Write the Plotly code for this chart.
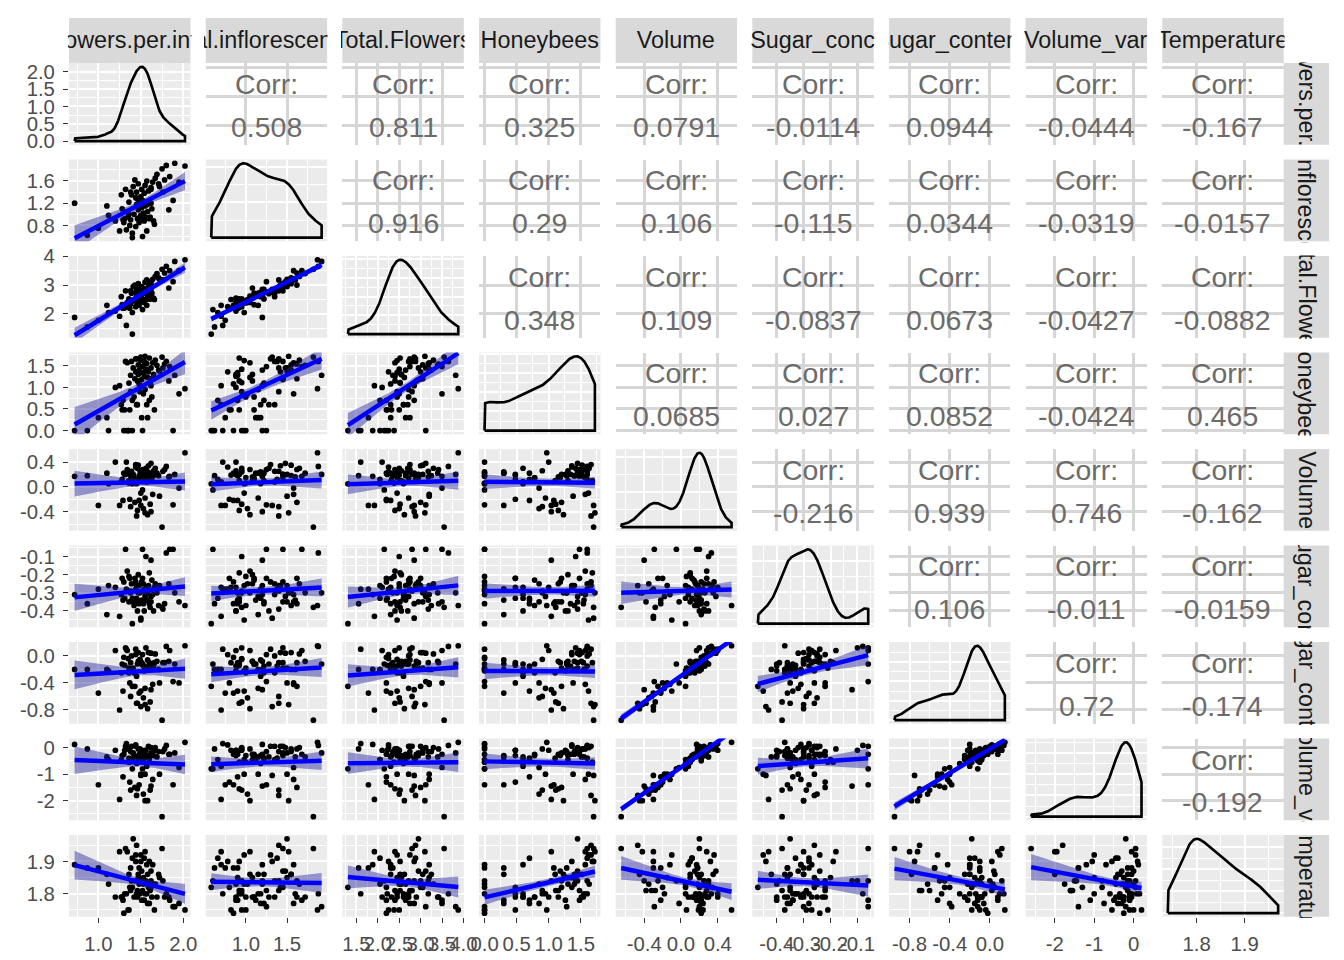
import numpy as np
import plotly.graph_objects as go

# ---------------- data ----------------
var_labels = ["Flowers.per.inflo", "Total.inflorescences", "Total.Flowers",
              "Honeybees", "Volume", "Sugar_conc", "Sugar_content", "Volume_var", "Temperature"]

flowers_per_inflorescence = [
    0.72, 2.02, 0.87, 1.00, 1.10, 1.12, 1.20, 1.25, 1.28, 1.30,
    1.31, 1.32, 1.33, 1.34, 1.35, 1.36, 1.37, 1.38, 1.39, 1.40,
    1.41, 1.42, 1.43, 1.44, 1.45, 1.45, 1.46, 1.46, 1.47, 1.47,
    1.48, 1.48, 1.49, 1.50, 1.50, 1.51, 1.51, 1.52, 1.52, 1.53,
    1.53, 1.54, 1.54, 1.55, 1.55, 1.56, 1.57, 1.57, 1.58, 1.59,
    1.60, 1.60, 1.61, 1.62, 1.63, 1.64, 1.65, 1.66, 1.67, 1.62,
    1.62, 1.36, 1.69, 1.44, 1.29, 1.71, 1.58, 1.75, 1.38, 1.78,
    1.83, 1.80, 1.27, 1.72, 1.88, 1.84, 1.90, 1.95, 1.76, 1.40]
total_inflorescences = [
    1.20, 1.87, 0.62, 0.75, 1.15, 0.98, 0.88, 0.70, 1.10, 0.85,
    0.92, 1.45, 0.72, 1.05, 0.95, 1.22, 0.80, 0.90, 1.35, 0.66,
    1.50, 1.00, 1.62, 0.78, 1.18, 1.40, 0.92, 1.28, 1.08, 1.55,
    0.85, 1.20, 0.95, 0.98, 1.32, 1.12, 1.45, 0.60, 1.25, 0.90,
    1.02, 1.38, 0.88, 1.52, 1.15, 0.95, 0.70, 1.60, 1.05, 1.42,
    1.22, 0.92, 0.95, 1.48, 1.10, 1.58, 0.88, 0.82, 1.65, 1.20,
    1.45, 1.00, 1.72, 1.30, 0.90, 1.55, 1.18, 1.82, 1.40, 1.62,
    1.08, 1.88, 1.35, 1.50, 1.25, 1.68, 1.92, 1.58, 1.40, 0.58]
total_flowers = [
    1.88, 3.88, 1.55, 1.78, 2.30, 2.05, 2.10, 1.92, 2.32, 2.20,
    2.22, 2.80, 1.60, 2.40, 2.25, 2.52, 2.20, 2.35, 2.72, 2.05,
    2.95, 2.45, 3.00, 2.25, 2.60, 2.88, 2.40, 2.70, 2.55, 3.05,
    2.30, 2.65, 2.45, 2.45, 2.85, 2.65, 2.95, 2.15, 2.75, 2.45,
    2.50, 2.88, 2.40, 3.10, 2.72, 2.50, 2.30, 3.18, 2.62, 3.00,
    2.85, 2.52, 2.52, 3.12, 2.72, 3.20, 2.55, 2.50, 3.30, 2.85,
    3.05, 2.38, 3.40, 2.75, 2.20, 3.25, 2.75, 3.55, 2.80, 3.42,
    2.90, 3.65, 2.60, 3.20, 3.12, 3.50, 3.82, 3.50, 3.18, 1.30]
honeybees = [
    0.00, 0.97, 0.00, 0.30, 0.30, 0.00, 1.00, 1.04, 0.48, 0.00,
    0.48, 1.60, 0.00, 1.57, 0.00, 1.10, 0.48, 1.28, 1.60, 0.70,
    1.45, 0.78, 1.20, 1.36, 0.60, 1.66, 1.15, 0.60, 1.30, 1.52,
    1.08, 1.40, 0.90, 1.62, 1.70, 0.30, 1.18, 0.00, 1.48, 1.34,
    0.85, 1.60, 1.26, 1.72, 0.95, 1.42, 0.60, 1.55, 1.23, 1.36,
    0.70, 1.68, 1.11, 1.45, 0.78, 1.57, 1.30, 0.48, 1.63, 1.04,
    1.20, 0.00, 1.51, 1.66, 0.70, 1.40, 0.30, 1.70, 0.90, 1.54,
    1.15, 1.60, 0.60, 1.38, 0.00, 1.48, 1.28, 0.85, 1.45, 0.00]
volume = [
    0.17, 0.55, 0.18, -0.30, 0.22, 0.05, 0.40, -0.30, 0.12, 0.22,
    0.20, 0.20, 0.40, 0.28, 0.24, 0.10, -0.20, 0.18, 0.25, 0.12,
    0.20, 0.15, -0.25, 0.32, 0.05, -0.47, -0.38, 0.30, 0.10, 0.35,
    -0.22, 0.18, 0.26, -0.10, -0.30, 0.22, 0.15, -0.05, 0.28, 0.20,
    -0.35, 0.12, 0.20, -0.42, -0.18, 0.30, 0.08, 0.16, -0.45, 0.34,
    0.22, 0.10, -0.28, 0.38, 0.14, -0.12, 0.26, 0.19, 0.30, -0.40,
    0.20, 0.06, 0.22, 0.36, -0.22, 0.18, 0.24, -0.65, -0.32, 0.28,
    0.16, 0.33, 0.08, -0.15, -0.29, 0.17, 0.20, -0.02, 0.25, 0.05]
sugar_conc = [
    -0.31, -0.37, -0.36, -0.28, -0.42, -0.26, -0.27, -0.43, -0.22, -0.24,
    -0.33, -0.06, -0.28, -0.18, -0.29, -0.35, -0.22, -0.30, -0.25, -0.33,
    -0.35, -0.37, -0.22, -0.28, -0.33, -0.26, -0.35, -0.40, -0.20, -0.30,
    -0.36, -0.26, -0.30, -0.45, -0.44, -0.34, -0.24, -0.06, -0.22, -0.36,
    -0.25, -0.28, -0.40, -0.30, -0.32, -0.10, -0.27, -0.34, -0.30, -0.26,
    -0.36, -0.19, -0.38, -0.32, -0.23, -0.31, -0.40, -0.27, -0.25, -0.12,
    -0.35, -0.21, -0.30, -0.24, -0.34, -0.37, -0.28, -0.38, -0.29, -0.36,
    -0.25, -0.08, -0.31, -0.26, -0.06, -0.06, -0.30, -0.35, -0.39, -0.47]
sugar_content = [
    -0.20, 0.15, -0.20, -0.55, -0.20, -0.22, 0.08, -0.80, -0.12, -0.02,
    -0.14, 0.12, 0.10, 0.08, -0.04, -0.25, -0.40, -0.10, 0.00, -0.20,
    -0.18, -0.25, -0.45, 0.02, -0.30, -0.70, -0.70, -0.12, -0.08, 0.05,
    -0.55, -0.08, -0.05, -0.52, -0.75, -0.12, -0.10, -0.12, 0.02, -0.15,
    -0.62, -0.15, -0.22, -0.72, -0.48, 0.12, -0.20, -0.20, -0.78, 0.05,
    -0.15, -0.10, -0.68, 0.04, -0.12, -0.42, -0.15, -0.10, 0.03, -0.50,
    -0.18, -0.18, -0.08, 0.10, -0.52, -0.20, -0.06, -0.95, -0.60, -0.10,
    -0.08, 0.14, -0.25, -0.40, -0.38, 0.08, -0.12, -0.40, -0.10, -0.45]
volume_var = [
    0.12, 0.20, -0.05, -1.40, -0.35, -0.45, -0.10, -1.95, -0.30, -0.25,
    -0.10, 0.05, 0.15, -0.05, 0.00, -0.40, -1.30, -0.15, 0.05, -0.45,
    -0.20, -0.30, -1.50, 0.10, -0.60, -1.80, -1.55, -0.35, -0.45, -0.05,
    -1.40, -0.25, -0.05, -1.00, -1.05, -0.50, -0.30, -0.80, -0.15, -0.25,
    -1.75, -0.40, -0.10, -2.00, -1.00, -0.10, -0.70, -0.35, -2.00, 0.05,
    -0.40, -0.55, -1.60, 0.00, -0.25, -1.20, -0.30, -0.10, 0.00, -1.45,
    -0.20, -0.55, -0.35, 0.05, -1.10, -0.15, -0.30, -2.60, -1.60, -0.05,
    -0.25, 0.08, -0.45, -1.00, -1.40, -0.25, -0.20, -0.75, -0.15, -0.80]
temperature = [
    1.89, 1.75, 1.88, 1.88, 1.86, 1.83, 1.79, 1.93, 1.79, 1.74,
    1.80, 1.94, 1.80, 1.93, 1.75, 1.86, 1.82, 1.88, 1.84, 1.91,
    1.97, 1.79, 1.84, 1.90, 1.80, 1.95, 1.81, 1.79, 1.85, 1.86,
    1.88, 1.83, 1.80, 1.92, 1.90, 1.78, 1.87, 1.84, 1.81, 1.85,
    1.83, 1.91, 1.78, 1.93, 1.80, 1.84, 1.89, 1.80, 1.86, 1.82,
    1.77, 1.90, 1.81, 1.87, 1.79, 1.89, 1.83, 1.75, 1.83, 1.84,
    1.82, 1.75, 1.79, 1.92, 1.78, 1.86, 1.77, 1.94, 1.81, 1.79,
    1.79, 1.80, 1.79, 1.85, 1.76, 1.78, 1.76, 1.77, 1.84, 1.82]

columns = [flowers_per_inflorescence, total_inflorescences, total_flowers, honeybees,
           volume, sugar_conc, sugar_content, volume_var, temperature]

# tick values / labels
x_tick_vals = [[1.0, 1.5, 2.0], [1.0, 1.5], [1.5, 2.0, 2.5, 3.0, 3.5, 4.0], [0.0, 0.5, 1.0, 1.5],
               [-0.4, 0.0, 0.4], [-0.4, -0.3, -0.2, -0.1], [-0.8, -0.4, 0.0], [-2, -1, 0], [1.8, 1.9]]
x_tick_text = [["1.0", "1.5", "2.0"], ["1.0", "1.5"], ["1.5", "2.0", "2.5", "3.0", "3.5", "4.0"],
               ["0.0", "0.5", "1.0", "1.5"], ["-0.4", "0.0", "0.4"], ["-0.4", "-0.3", "-0.2", "-0.1"],
               ["-0.8", "-0.4", "0.0"], ["-2", "-1", "0"], ["1.8", "1.9"]]
y_tick_vals = [[1.0, 1.5, 2.0], [0.4, 0.8, 1.2, 1.6], [1, 2, 3, 4], [0.0, 0.5, 1.0, 1.5],
               [-0.4, 0.0, 0.4], [-0.4, -0.3, -0.2, -0.1], [-0.8, -0.4, 0.0], [-2, -1, 0], [1.8, 1.9]]
y_tick_text = [["1.0", "1.5", "2.0"], ["0.4", "0.8", "1.2", "1.6"], ["1", "2", "3", "4"],
               ["0.0", "0.5", "1.0", "1.5"], ["-0.4", "0.0", "0.4"], ["-0.4", "-0.3", "-0.2", "-0.1"],
               ["-0.8", "-0.4", "0.0"], ["-2", "-1", "0"], ["1.8", "1.9"]]
density1_tick_vals = [0.0, 0.5, 1.0, 1.5, 2.0]
density1_tick_text = ["0.0", "0.5", "1.0", "1.5", "2.0"]

corr_labels = [
    ["0.508", "0.811", "0.325", "0.0791", "-0.0114", "0.0944", "-0.0444", "-0.167"],
    ["0.916", "0.29", "0.106", "-0.115", "0.0344", "-0.0319", "-0.0157"],
    ["0.348", "0.109", "-0.0837", "0.0673", "-0.0427", "-0.0882"],
    ["0.0685", "0.027", "0.0852", "-0.0424", "0.465"],
    ["-0.216", "0.939", "0.746", "-0.162"],
    ["0.106", "-0.011", "-0.0159"],
    ["0.72", "-0.174"],
    ["-0.192"],
]

# ---------------- geometry ----------------
# The rendered page keeps the default 8px body margin and is photographed
# slightly reduced, so target positions (in the 1344x960 picture) are mapped
# through K (size scale) and OFF (body margin).
K = 1 / 0.9837
OFF = 8
W, H = round(1344 * K - 2 * OFF), round(960 * K - 2 * OFF)


def P(v):          # picture position -> figure position
    return v * K - OFF


def S(v):          # picture length -> figure length
    return v * K


PX0, PY0, PW, PH, DX, DY = 68, 60, 121.5, 82, 136.75, 96.75
STRIP_TOP = 15
FONT = "Liberation Sans, Arial, Helvetica, sans-serif"
N = len(columns)


def xfrac(v):
    return P(v) / W


def yfrac(v):
    return 1 - P(v) / H


def expand(v):
    lo, hi = min(v), max(v)
    p = 0.05 * (hi - lo)
    return [lo - p, hi + p]


def minors(majors, step=None):
    if step is None:
        step = majors[1] - majors[0]
    return [majors[0] - step / 2] + [m + step / 2 for m in majors]


def kde(v):
    x = np.asarray(v, float)
    n = len(x)
    sd = x.std(ddof=1)
    q75, q25 = np.percentile(x, [75, 25])
    bw = 0.9 * min(sd, (q75 - q25) / 1.34) * n ** -0.2
    g = np.linspace(x.min(), x.max(), 512)
    d = np.exp(-0.5 * ((g[:, None] - x[None, :]) / bw) ** 2).sum(1) / (n * bw * np.sqrt(2 * np.pi))
    return g, d


def lm_band(xv, yv):
    x = np.asarray(xv, float)
    y = np.asarray(yv, float)
    n = len(x)
    xm, ym = x.mean(), y.mean()
    sxx = ((x - xm) ** 2).sum()
    b = ((x - xm) * (y - ym)).sum() / sxx
    a = ym - b * xm
    s = np.sqrt(((y - a - b * x) ** 2).sum() / (n - 2))
    g = np.linspace(x.min(), x.max(), 80)
    f = a + b * g
    se = s * np.sqrt(1 / n + (g - xm) ** 2 / sxx)
    t = 1.9908
    return g, f, f - t * se, f + t * se


def nice_step(hi):
    raw = hi / 4
    mag = 10 ** np.floor(np.log10(raw))
    for m in [1, 2, 2.5, 5, 10]:
        if m * mag >= raw:
            return m * mag
    return 10 * mag


ranges = [expand(c) for c in columns]

fig = go.Figure()
layout = dict(width=W, height=H, margin=dict(l=0, r=0, t=0, b=0), autosize=False,
              paper_bgcolor="white", plot_bgcolor="rgba(0,0,0,0)", showlegend=False,
              font=dict(family=FONT))
shapes = []
annotations = []

STANDOFF = int(round(S(4)))
tick_common = dict(ticks="outside", ticklen=S(5), tickwidth=S(1.3), tickcolor="#333333",
                   tickfont=dict(size=S(20), color="#4D4D4D", family=FONT))

for i in range(N):
    for j in range(N):
        k = i * N + j + 1
        xs = "x" if k == 1 else f"x{k}"
        ys = "y" if k == 1 else f"y{k}"
        xname = "xaxis" if k == 1 else f"xaxis{k}"
        yname = "yaxis" if k == 1 else f"yaxis{k}"
        x0 = PX0 + j * DX
        y0 = PY0 + i * DY
        xdom = [xfrac(x0), xfrac(x0 + PW)]
        ydom = [yfrac(y0 + PH), yfrac(y0)]

        is_corr = j > i
        grid_major = dict(showgrid=True, gridcolor="#D6D6D6" if is_corr else "white",
                          gridwidth=S(2.6) if is_corr else S(2.2))

        xa = dict(domain=xdom, anchor=ys, range=ranges[j], zeroline=False, showline=False,
                  tickmode="array", tickvals=x_tick_vals[j], ticktext=x_tick_text[j],
                  tickangle=0, fixedrange=True, **grid_major)
        if not is_corr:
            xa["minor"] = dict(tickmode="array", tickvals=minors(x_tick_vals[j]),
                               showgrid=True, gridcolor="white", gridwidth=S(1.1), ticks="")
        if i == N - 1:
            xa.update(showticklabels=True, ticklabelstandoff=STANDOFF, **tick_common)
        else:
            xa.update(showticklabels=False, ticks="")

        if i == j:
            g, d = kde(columns[j])
            dmax = d.max()
            yr = [-0.05 * dmax, 1.05 * dmax]
            if i == 0:
                yv, yt = density1_tick_vals, density1_tick_text
            else:
                st = nice_step(dmax)
                yv = list(np.arange(0, dmax * 1.05 + 1e-12, st))
                yt = [f"{v:g}" for v in yv]
            ystep = yv[1] - yv[0]
        else:
            yr = ranges[i]
            yv, yt = y_tick_vals[i], y_tick_text[i]
            ystep = None
        ya = dict(domain=ydom, anchor=xs, range=yr, zeroline=False, showline=False,
                  tickmode="array", tickvals=yv, ticktext=yt, fixedrange=True, **grid_major)
        if not is_corr:
            ya["minor"] = dict(tickmode="array", tickvals=minors(yv, ystep),
                               showgrid=True, gridcolor="white", gridwidth=S(1.1), ticks="")
        if j == 0:
            ya.update(showticklabels=True, ticklabelstandoff=STANDOFF, **tick_common)
        else:
            ya.update(showticklabels=False, ticks="")
        layout[xname] = xa
        layout[yname] = ya

        if not is_corr:
            shapes.append(dict(type="rect", xref="paper", yref="paper", layer="below",
                               x0=xdom[0], x1=xdom[1], y0=ydom[0], y1=ydom[1],
                               fillcolor="#EBEBEB", line=dict(width=0)))

        if i == j:
            px = [g[0]] + list(g) + [g[-1], g[0]]
            py = [0.0] + list(d) + [0.0, 0.0]
            fig.add_trace(go.Scatter(x=px, y=py, mode="lines", xaxis=xs, yaxis=ys,
                                     line=dict(color="black", width=S(2.6)), hoverinfo="skip"))
        elif i > j:
            fig.add_trace(go.Scatter(x=columns[j], y=columns[i], mode="markers", xaxis=xs, yaxis=ys,
                                     marker=dict(color="black", size=S(5.6), line=dict(width=0)),
                                     hoverinfo="skip"))
            gx, fit, lo, hi = lm_band(columns[j], columns[i])
            fig.add_trace(go.Scatter(x=list(gx) + list(gx[::-1]), y=list(hi) + list(lo[::-1]),
                                     mode="lines", fill="toself", fillcolor="rgba(35,35,155,0.45)",
                                     line=dict(width=0), xaxis=xs, yaxis=ys, hoverinfo="skip"))
            fig.add_trace(go.Scatter(x=gx, y=fit, mode="lines", xaxis=xs, yaxis=ys,
                                     line=dict(color="#0000FF", width=S(4.4)), hoverinfo="skip"))
        else:
            fig.add_trace(go.Scatter(x=[], y=[], mode="markers", xaxis=xs, yaxis=ys, hoverinfo="skip"))
            cx = x0 + PW / 2
            cy = y0 + PH / 2
            for txt, off in (("Corr:", -20), (corr_labels[i][j - i - 1], 23)):
                annotations.append(dict(xref="paper", yref="paper", x=xfrac(cx), y=yfrac(cy + off),
                                        text=txt, showarrow=False, xanchor="center", yanchor="middle",
                                        font=dict(size=S(28), color="#6B6B6B", family=FONT)))

# strips
for j in range(N):
    x0 = PX0 + j * DX
    shapes.append(dict(type="rect", xref="paper", yref="paper", layer="above",
                       x0=xfrac(x0), x1=xfrac(x0 + PW), y0=yfrac(PY0), y1=yfrac(STRIP_TOP),
                       fillcolor="#D9D9D9", line=dict(width=0)))
    annotations.append(dict(xref="paper", yref="paper", x=xfrac(x0 + PW / 2),
                            y=yfrac((STRIP_TOP + PY0) / 2),
                            text=var_labels[j], showarrow=False, xanchor="center", yanchor="middle",
                            width=S(PW), height=S(44), align="center", valign="middle", borderpad=0,
                            font=dict(size=S(23), color="#1A1A1A", family=FONT)))
SX0 = PX0 + (N - 1) * DX + PW
for i in range(N):
    y0 = PY0 + i * DY
    shapes.append(dict(type="rect", xref="paper", yref="paper", layer="above",
                       x0=xfrac(SX0), x1=xfrac(SX0 + 45.5), y0=yfrac(y0 + PH), y1=yfrac(y0),
                       fillcolor="#D9D9D9", line=dict(width=0)))
    annotations.append(dict(xref="paper", yref="paper", x=xfrac(SX0 + 22.75), y=yfrac(y0 + PH / 2),
                            text=var_labels[i], showarrow=False, xanchor="center", yanchor="middle",
                            textangle=90, width=S(PH), height=S(44), align="center", valign="middle",
                            borderpad=0, font=dict(size=S(23), color="#1A1A1A", family=FONT)))

layout["shapes"] = shapes
layout["annotations"] = annotations
fig.update_layout(**layout)
fig.write_html("out.html")
